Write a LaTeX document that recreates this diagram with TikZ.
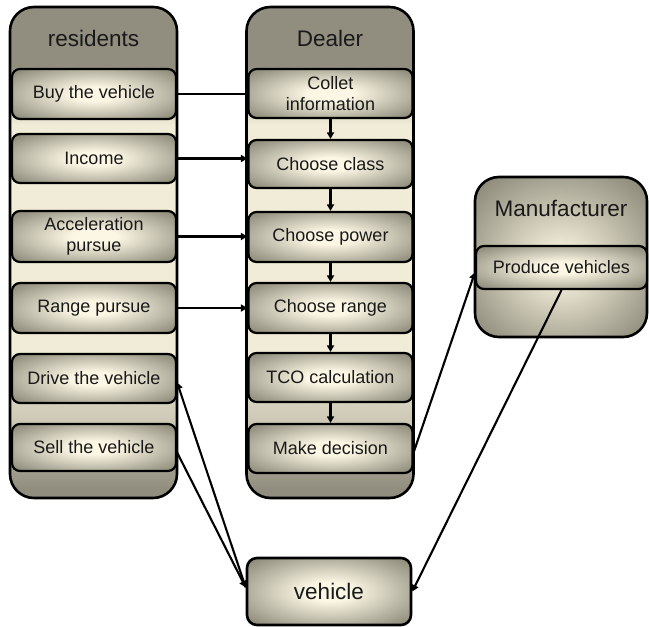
\documentclass[tikz,border=0pt]{standalone}
\usepackage{fontspec}
\setmainfont{Liberation Sans}
\usetikzlibrary{arrows.meta,calc}

\definecolor{laneGray}{RGB}{145,142,127}
\definecolor{laneMid}{RGB}{205,201,182}
\definecolor{laneCream}{RGB}{241,236,216}
\definecolor{boxGray}{RGB}{139,136,120}
\definecolor{boxCream}{RGB}{252,247,228}
\definecolor{mfCream}{RGB}{238,233,213}
\definecolor{inkText}{RGB}{25,25,25}

% swim-lane fill: grey header and foot, cream body
\pgfdeclareverticalshading{lanefill}{100bp}{%
  color(0bp)=(laneGray); color(26bp)=(laneGray);
  color(33bp)=(laneMid); color(40bp)=(laneCream); color(63bp)=(laneCream);
  color(69bp)=(laneGray); color(100bp)=(laneGray)}

% step box fill: broad cream centre fading to grey rims
\pgfdeclareradialshading{stepfill}{\pgfpoint{0bp}{0bp}}{%
  color(0bp)=(boxCream); color(7bp)=(boxCream);
  color(34bp)=(boxGray); color(50bp)=(boxGray)}
\pgfdeclareradialshading{mffill}{\pgfpoint{0bp}{-3bp}}{%
  color(0bp)=(mfCream); color(6bp)=(mfCream);
  color(34bp)=(boxGray); color(50bp)=(boxGray)}

\tikzset{
  lane/.style={draw, line width=2.6pt, rounded corners=24pt, shading=lanefill,
    minimum width=167pt, minimum height=491pt, inner sep=0pt},
  hdr/.style={font=\fontsize{22.5}{26}\selectfont, text=inkText, inner sep=0pt},
  stepbox/.style={draw, line width=2.2pt, rounded corners=8pt,
    shading=stepfill, minimum width=164pt,
    align=center, inner sep=2pt, text=inkText,
    font=\fontsize{18}{20.5}\selectfont},
  conn/.style={line width=2.1pt},
  arrowed/.style={conn, -{Triangle[length=6.5pt,width=7pt]}}
}

\begin{document}
\begin{tikzpicture}[x=1pt,y=-1pt]
\useasboundingbox (0,0) rectangle (649,627);

% residents lane
\node[lane] (res) at (93.5,252.5) {};
\node[hdr] (resT) at (93.5,38) {residents};
\node[stepbox, minimum height=50pt] (buy)   at (94,94)    {Buy the vehicle};
\node[stepbox, minimum height=49pt] (inc)   at (94,158.5) {Income};
\node[stepbox, minimum height=51pt] (acc)   at (94,236.5) {Acceleration\\pursue};
\node[stepbox, minimum height=50pt] (rng)   at (94,308)   {Range pursue};
\node[stepbox, minimum height=49pt] (drive) at (94,378.5) {Drive the vehicle};
\node[stepbox, minimum height=47pt] (sell)  at (94,447.5) {Sell the vehicle};

% dealer lane
\node[lane] (dea) at (330,252.5) {};
\node[hdr] (deaT) at (330,38) {Dealer};
\node[stepbox, minimum height=49pt] (ci)  at (330.5,93.5)  {Collet\\information};
\node[stepbox, minimum height=48pt] (cc)  at (330.5,164)   {Choose class};
\node[stepbox, minimum height=50pt] (cp)  at (330.5,237)   {Choose power};
\node[stepbox, minimum height=50pt] (cr)  at (330.5,308)   {Choose range};
\node[stepbox, minimum height=49pt] (tco) at (330.5,377.5) {TCO calculation};
\node[stepbox, minimum height=49pt] (md)  at (330.5,448.5) {Make decision};

% manufacturer
\node[draw, line width=2.6pt, rounded corners=24pt, shading=mffill,
  minimum width=172pt, minimum height=160pt] (mf) at (561,257) {};
\node[hdr] (mfT) at (561,208) {Manufacturer};
\node[stepbox, minimum width=171pt, minimum height=43pt] (pv) at (561.5,267.5) {Produce vehicles};

% vehicle
\node[stepbox, line width=2.6pt, rounded corners=10pt, minimum width=164pt,
  minimum height=67pt, font=\fontsize{22.5}{26}\selectfont] (vh) at (329,591.5) {vehicle};

% residents -> dealer
\draw[conn] (buy.east) -- (buy.east -| dea.west);
\draw[arrowed] (inc.east) -- (inc.east -| cc.west);
\draw[arrowed] (acc.east) -- (acc.east -| cp.west);
\draw[arrowed] (rng.east) -- (rng.east -| cr.west);

% dealer chain
\draw[arrowed] (ci.south) -- (cc.north);
\draw[arrowed] (cc.south) -- (cp.north);
\draw[arrowed] (cp.south) -- (cr.north);
\draw[arrowed] (cr.south) -- (tco.north);
\draw[arrowed] (tco.south) -- (md.north);

% decision -> production -> vehicle
\draw[arrowed] ([yshift=-4pt]md.east) -- ([yshift=-5pt]pv.west);
\draw[arrowed] (pv.south) -- (vh.east);

% vehicle exchange with residents
\draw[arrowed] ([yshift=-5pt]sell.east) -- ([yshift=4pt]vh.west);
\draw[arrowed] ([yshift=4pt]vh.west) -- ([yshift=-4pt]drive.east);
\end{tikzpicture}
\end{document}
